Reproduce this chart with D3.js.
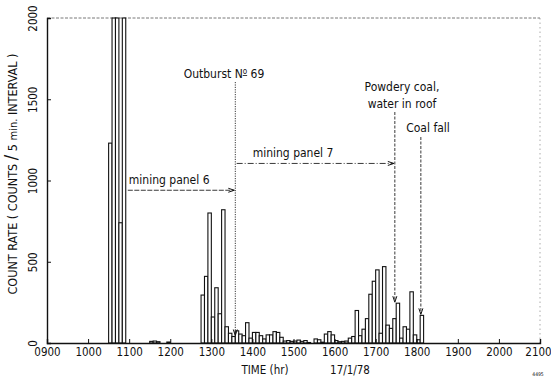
<!DOCTYPE html>
<html><head><meta charset="utf-8">
<script src="https://cdn.jsdelivr.net/npm/d3@7"></script>
<style>
html,body{margin:0;padding:0;background:#fff;}
svg{display:block;}
text{font-family:"DejaVu Sans Condensed","Liberation Sans Narrow",sans-serif;fill:#111;}
</style></head>
<body>
<svg id="chart" width="551" height="380"></svg>
<script>
// ---- data ----
const binTimes = ["10:30","10:35","10:40","10:45","10:50",
  "11:30","11:35","11:40","11:55",
  "12:45","12:50","12:55","13:00","13:05","13:10","13:15","13:20","13:25","13:30",
  "13:35","13:40","13:45","13:50","13:55","14:00","14:05","14:10","14:15","14:20",
  "14:25","14:30","14:35","14:40","14:45","14:50","14:55","15:00","15:05","15:10",
  "15:15","15:20","15:25","15:30","15:35","15:40","15:45","15:50","15:55","16:00",
  "16:05","16:10","16:15","16:20","16:25","16:30","16:35","16:40","16:45","16:50",
  "16:55","17:00","17:05","17:10","17:15","17:20","17:25","17:30","17:35","17:40",
  "17:45","17:50","17:55","18:00","18:05"];
const counts = [1230,2600,2600,740,2600,
  10,12,8,6,
  295,410,800,160,340,180,820,100,60,40,
  75,55,45,125,30,65,65,45,25,50,
  50,70,65,35,12,15,10,12,18,10,
  15,3,0,25,20,5,55,70,50,15,
  8,10,12,30,40,200,45,85,150,300,
  380,450,60,470,110,90,150,245,30,100,
  85,315,50,20,170];
const xTickLabels = ["0900","1000","1100","1200","1300","1400","1500","1600","1700","1800","1900","2000","2100"];
const yTickValues = [0,500,1000,1500,2000];
const events = [
  {time:"13:35", top:82,  value:40,  label:["Outburst N","69"]},
  {time:"17:28", top:112, value:245, label:["Powdery coal,","water in roof"]},
  {time:"18:06", top:137, value:170, label:["Coal fall"]}
];
const panels = [
  {from:"10:58", to:"13:35", level:940, label:"mining panel 6"},
  {from:"13:37", to:"17:28", level:1105, label:"mining panel 7"}
];
const binMinutes = 5;

// ---- helpers ----
const toHours = s => { const [h,m] = s.split(":").map(Number); return h + m/60; };

const svg = d3.select("#chart");
const x = d3.scaleLinear().domain([9,21]).range([47,540]);
const y = d3.scaleLinear().domain([0,2000]).range([343,18]).clamp(true);

// frame (top & right, light dotted)
svg.append("line").attr("x1",x(9)).attr("x2",x(21)).attr("y1",y(2000)).attr("y2",y(2000))
  .attr("stroke","#555").attr("stroke-width",0.8).attr("stroke-dasharray","3,1.5");
svg.append("line").attr("x1",x(21)).attr("x2",x(21)).attr("y1",y(2000)).attr("y2",y(0))
  .attr("stroke","#888").attr("stroke-width",0.7).attr("stroke-dasharray","1.5,3");

// bars
const data = binTimes.map((t,i)=>({t:toHours(t), v:counts[i]}));
svg.append("g").selectAll("rect").data(data).join("rect")
  .attr("x",d=>x(d.t))
  .attr("width",d=>x(d.t+binMinutes/60)-x(d.t))
  .attr("y",d=>y(d.v))
  .attr("height",d=>y(0)-y(d.v))
  .attr("fill","#fff").attr("stroke","#111").attr("stroke-width",1.1);

// axes
const xAxis = d3.axisBottom(x).tickValues(d3.range(9,22)).tickSize(-4)
  .tickFormat((d,i)=>xTickLabels[i]);
const gx = svg.append("g").attr("transform",`translate(0,${y(0)})`).call(xAxis);
gx.select(".domain").attr("stroke","#111").attr("stroke-width",1.4);
gx.selectAll(".tick line").attr("stroke","#111");
gx.selectAll(".tick text").attr("dy","0.25em").attr("y",10)
  .attr("x",(d,i)=> i===xTickLabels.length-1 ? -2 : 0)
  .style("font-size","11.5px").style("font-family",'"DejaVu Sans Condensed",sans-serif');

const yAxis = d3.axisLeft(y).tickValues(yTickValues).tickSize(-4).tickFormat(d3.format("d"));
const gy = svg.append("g").attr("transform",`translate(${x(9)},0)`).call(yAxis);
gy.select(".domain").attr("stroke","#111").attr("stroke-width",1.4);
gy.selectAll(".tick line").attr("stroke","#111");
gy.selectAll(".tick text").attr("x",0).attr("dy",0)
  .attr("transform","translate(-10,0) rotate(-90)")
  .attr("text-anchor","middle")
  .style("font-size","11.5px").style("font-family",'"DejaVu Sans Condensed",sans-serif');

// axis titles
const yt = svg.append("text").attr("transform",`translate(17,174) rotate(-90)`)
  .attr("text-anchor","middle").style("font-size","12.5px");
yt.append("tspan").text("COUNT RATE  ( COUNTS ");
yt.append("tspan").text("/").style("font-size","18px");
yt.append("tspan").text(" 5 ");
yt.append("tspan").text("min.").style("font-size","11px");
yt.append("tspan").text(" INTERVAL )");

svg.append("text").attr("x",265).attr("y",374).attr("text-anchor","middle")
  .style("font-size","11.5px").text("TIME   (hr)");
svg.append("text").attr("x",350).attr("y",374).attr("text-anchor","middle")
  .style("font-size","11.5px").text("17/1/78");
svg.append("text").attr("x",538).attr("y",376).attr("text-anchor","middle")
  .style("font-size","5px").text("4495");

// event lines
events.forEach((e,i)=>{
  const ex = x(toHours(e.time));
  svg.append("line").attr("x1",ex).attr("x2",ex).attr("y1",e.top).attr("y2",y(e.value)-2)
    .attr("stroke","#222").attr("stroke-width",0.9).attr("stroke-dasharray",i===0?"1.2,1.2":"3,1.5");
  svg.append("path").attr("d",`M${ex-2},${y(e.value)-7} L${ex},${y(e.value)-1} L${ex+2},${y(e.value)-7}`)
    .attr("fill","none").attr("stroke","#111").attr("stroke-width",1);
});
// event labels
const ob = svg.append("text").attr("x",224).attr("y",78).attr("text-anchor","middle").style("font-size","12px");
ob.append("tspan").text("Outburst N");
ob.append("tspan").text("o").attr("dy","-4").style("font-size","8px").attr("text-decoration","underline");
ob.append("tspan").text(" 69").attr("dy","4");
svg.append("text").attr("x",402).attr("y",91).attr("text-anchor","middle").style("font-size","12px").text(events[1].label[0]);
svg.append("text").attr("x",402).attr("y",108).attr("text-anchor","middle").style("font-size","12px").text(events[1].label[1]);
svg.append("text").attr("x",428).attr("y",132).attr("text-anchor","middle").style("font-size","12px").text(events[2].label[0]);

// panel arrows
panels.forEach((p,i)=>{
  const x1 = x(toHours(p.from)), x2 = x(toHours(p.to)), py = y(p.level);
  svg.append("line").attr("x1",x1).attr("x2",x2-1).attr("y1",py).attr("y2",py)
    .attr("stroke","#222").attr("stroke-width",0.9).attr("stroke-dasharray",i===0?"5,1.5":"6,2,1,2");
  svg.append("path").attr("d",`M${x2-7},${py-2} L${x2-1},${py} L${x2-7},${py+2}`)
    .attr("fill","none").attr("stroke","#111").attr("stroke-width",1);
  svg.append("text").attr("x",x1+ (i===0?1:16)).attr("y",py-6).style("font-size","12px").text(p.label);
});
</script>
</body></html>
